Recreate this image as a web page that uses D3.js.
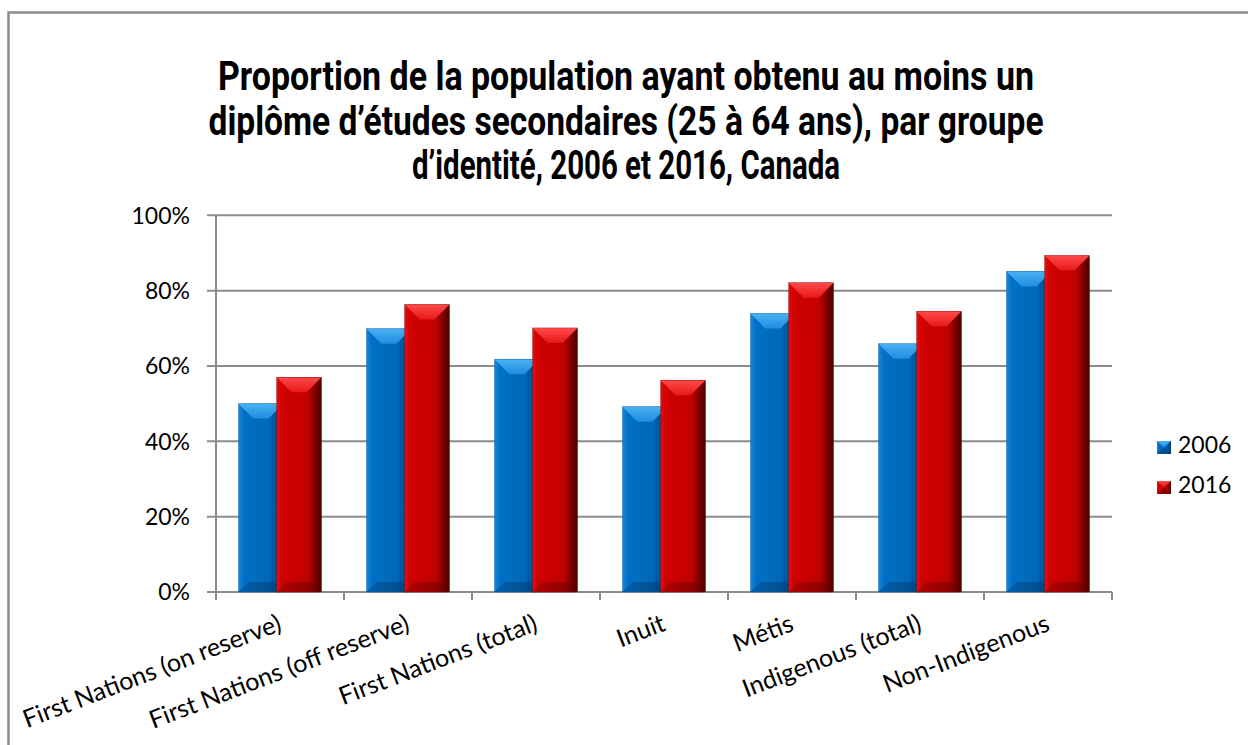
<!DOCTYPE html>
<html>
<head>
<meta charset="utf-8">
<script src="https://cdn.jsdelivr.net/npm/d3@7"></script>
<style>
  html, body { margin: 0; padding: 0; background: #fff; }
  svg { display: block; }
</style>
</head>
<body>
<svg id="chart" width="1248" height="745"></svg>
<script>
// ---- data ----
const titleLines = [
  "Proportion de la population ayant obtenu au moins un",
  "diplôme d’études secondaires (25 à 64 ans), par groupe",
  "d’identité, 2006 et 2016, Canada"
];
const categories = [
  "First Nations (on reserve)",
  "First Nations (off reserve)",
  "First Nations (total)",
  "Inuit",
  "Métis",
  "Indigenous (total)",
  "Non-Indigenous"
];
const seriesNames = ["2006", "2016"];
const values2006 = [50.0, 69.9, 61.8, 49.2, 73.9, 65.9, 85.1];
const values2016 = [57.0, 76.3, 70.1, 56.2, 82.1, 74.5, 89.3];
const yTicks = [0, 20, 40, 60, 80, 100];

// ---- layout ----
const svg = d3.select("#chart");
const plot = { left: 216, right: 1112, top: 215.3, bottom: 592 };

const x = d3.scaleBand().domain(categories).range([plot.left, plot.right]).padding(0);
const y = d3.scaleLinear().domain([0, 100]).range([plot.bottom, plot.top]);

const gapRatio = 1.0, overlap = 0.15;
const barW = x.bandwidth() / (2 - overlap + gapRatio);
const offset = (s) => barW * gapRatio / 2 + s * barW * (1 - overlap);

// outer border
svg.append("rect").attr("x", 8.5).attr("y", 12.5).attr("width", 1260).attr("height", 800)
  .attr("fill", "#fff").attr("stroke", "#8c8c8c").attr("stroke-width", 2.5);

// title
const title = svg.append("g");
const titleWidths = [816, 835, 428];
titleLines.forEach((t, i) => {
  title.append("text")
    .attr("x", 626).attr("y", 90 + i * 44.5)
    .attr("text-anchor", "middle")
    .attr("font-family", "'Liberation Sans Narrow', 'Roboto', 'Liberation Sans', sans-serif")
    .attr("font-weight", "bold")
    .attr("font-size", 40)
    .attr("textLength", titleWidths[i])
    .attr("lengthAdjust", "spacingAndGlyphs")
    .attr("fill", "#000")
    .text(t);
});

// gradients
const defs = svg.append("defs");
const palettes = [
  { body: ["#1a84d8", "#0070c6", "#0068b8", "#003a6e"], top: ["#4ab0f2", "#1e8fe0"], bottom: ["#005aa0", "#004a88"] },
  { body: ["#e01010", "#d00000", "#c20000", "#4a0000"], top: ["#ff4a4a", "#e81818"], bottom: ["#a80000", "#8a0000"] }
];
palettes.forEach((p, i) => {
  const gb = defs.append("linearGradient").attr("id", "body" + i).attr("x1", 0).attr("x2", 1).attr("y1", 0).attr("y2", 0);
  gb.append("stop").attr("offset", "0%").attr("stop-color", p.body[0]);
  gb.append("stop").attr("offset", "12%").attr("stop-color", p.body[1]);
  gb.append("stop").attr("offset", "68%").attr("stop-color", p.body[2]);
  gb.append("stop").attr("offset", "100%").attr("stop-color", p.body[3]);
  const gt = defs.append("linearGradient").attr("id", "top" + i).attr("x1", 0).attr("x2", 0).attr("y1", 0).attr("y2", 1);
  gt.append("stop").attr("offset", "0%").attr("stop-color", p.top[0]);
  gt.append("stop").attr("offset", "100%").attr("stop-color", p.top[1]);
  const gbt = defs.append("linearGradient").attr("id", "bot" + i).attr("x1", 0).attr("x2", 1).attr("y1", 0).attr("y2", 0);
  gbt.append("stop").attr("offset", "0%").attr("stop-color", p.bottom[0]);
  gbt.append("stop").attr("offset", "70%").attr("stop-color", p.bottom[1]);
  gbt.append("stop").attr("offset", "100%").attr("stop-color", p.body[3]);
});

// gridlines
svg.append("g").selectAll("line").data(yTicks).join("line")
  .attr("x1", plot.left - 9).attr("x2", plot.right)
  .attr("y1", d => y(d)).attr("y2", d => y(d))
  .attr("stroke", "#8c8c8c").attr("stroke-width", 2);

// y axis line
svg.append("line").attr("x1", plot.left).attr("x2", plot.left)
  .attr("y1", plot.top).attr("y2", plot.bottom + 8)
  .attr("stroke", "#8c8c8c").attr("stroke-width", 2);

// x ticks
const tickXs = categories.map(c => x(c)).concat([plot.right]);
svg.append("g").selectAll("line").data(tickXs).join("line")
  .attr("x1", d => d).attr("x2", d => d)
  .attr("y1", plot.bottom).attr("y2", plot.bottom + 8)
  .attr("stroke", "#8c8c8c").attr("stroke-width", 2);

// y tick labels
svg.append("g").selectAll("text").data(yTicks).join("text")
  .attr("x", 190).attr("y", d => y(d))
  .attr("dy", "0.36em")
  .attr("text-anchor", "end")
  .attr("font-family", "Lato, 'Open Sans', sans-serif")
  .attr("font-size", 23)
  .attr("fill", "#000")
  .text(d => d + "%");

// bars
function drawBar(g, bx, by, bw, bh, s) {
  const b = Math.min(15, bh / 2, bw / 3);
  const bb = Math.min(10, bh / 3);
  g.append("rect").attr("x", bx).attr("y", by).attr("width", bw).attr("height", bh)
    .attr("fill", `url(#body${s})`);
  g.append("polygon")
    .attr("points", [[bx, by], [bx + bw, by], [bx + bw - b, by + b], [bx + b, by + b]].map(p => p.join(",")).join(" "))
    .attr("fill", `url(#top${s})`);
  g.append("polygon")
    .attr("points", [[bx, by + bh], [bx + bw, by + bh], [bx + bw - bb, by + bh - bb], [bx + bb, by + bh - bb]].map(p => p.join(",")).join(" "))
    .attr("fill", `url(#bot${s})`).attr("opacity", 0.8);
  g.append("rect").attr("x", bx).attr("y", by).attr("width", bw).attr("height", bh)
    .attr("fill", "none").attr("stroke", s === 0 ? "#005a9e" : "#8a0000").attr("stroke-width", 0.6).attr("opacity", 0.6);
}

const bars = svg.append("g");
const allSeries = [values2006, values2016];
categories.forEach((c, ci) => {
  allSeries.forEach((vals, s) => {
    const v = vals[ci];
    const bx = x(c) + offset(s);
    drawBar(bars, bx, y(v), barW, y(0) - y(v), s);
  });
});

// x labels
svg.append("g").selectAll("text").data(categories).join("text")
  .attr("transform", d => `translate(${x(d) + x.bandwidth() / 2 + 3},${630}) rotate(-21)`)
  .attr("text-anchor", "end")
  .attr("font-family", "Lato, 'Open Sans', sans-serif")
  .attr("font-size", 25)
  .attr("fill", "#000")
  .text(d => d);

// legend
const legend = svg.append("g");
seriesNames.forEach((name, i) => {
  const ly = 441 + i * 40;
  const g = legend.append("g");
  g.append("rect").attr("x", 1157).attr("y", ly).attr("width", 14).attr("height", 13)
    .attr("fill", `url(#body${i})`);
  g.append("polygon")
    .attr("points", `1157,${ly} 1171,${ly} 1164,${ly + 6.5}`)
    .attr("fill", `url(#top${i})`);
  g.append("polygon")
    .attr("points", `1157,${ly + 13} 1171,${ly + 13} 1164,${ly + 6.5}`)
    .attr("fill", `url(#bot${i})`);
  g.append("text").attr("x", 1178).attr("y", ly + 12)
    .attr("font-family", "Lato, 'Open Sans', sans-serif")
    .attr("font-size", 23)
    .attr("fill", "#000")
    .text(name);
});
</script>
</body>
</html>
